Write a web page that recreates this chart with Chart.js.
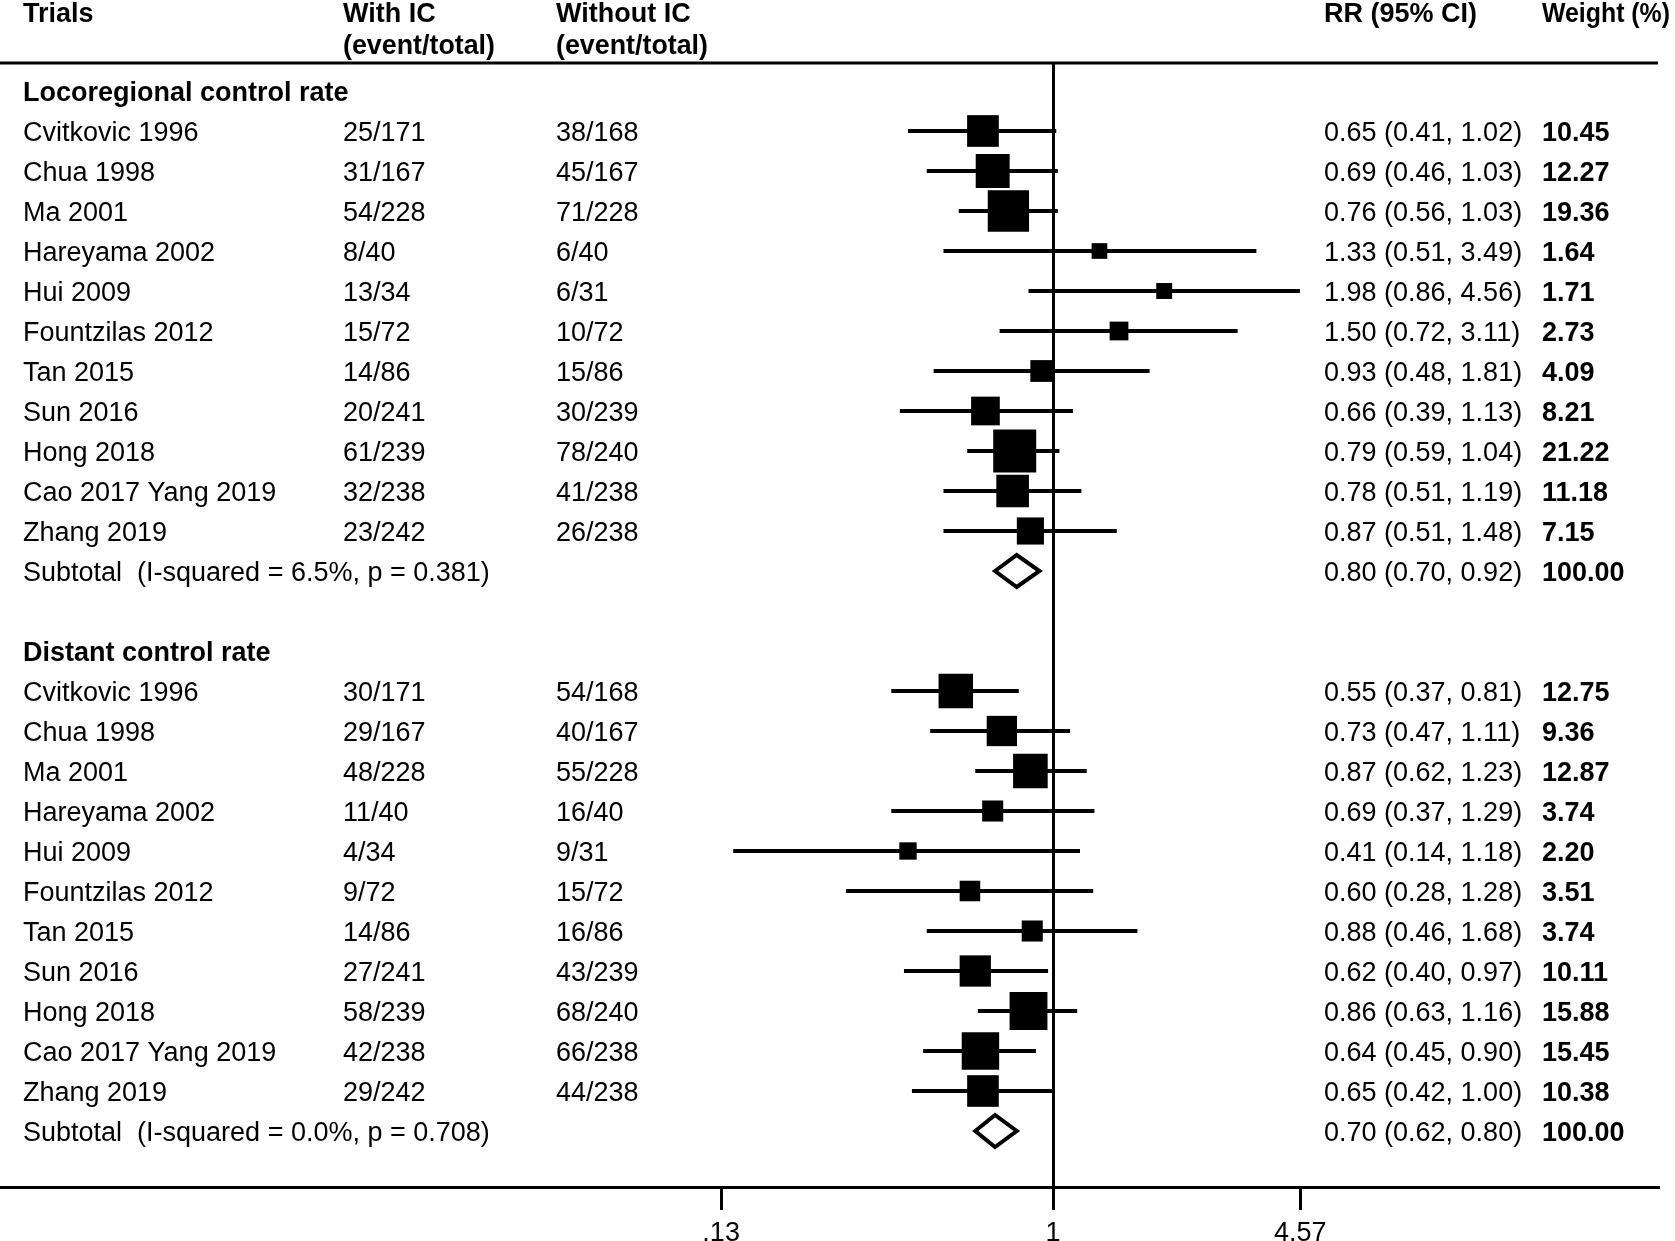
<!DOCTYPE html>
<html>
<head>
<meta charset="utf-8">
<title>Forest plot</title>
<script src="https://cdn.jsdelivr.net/npm/chart.js@4.4.1/dist/chart.umd.min.js"></script>
<style>
  html, body { margin: 0; padding: 0; background: #fff; }
  #wrap { width: 1675px; height: 1241px; }
</style>
</head>
<body>
<div id="wrap"><canvas id="forest" width="1675" height="1241"></canvas></div>
<script>
// study names (same order in both groups)
const trials = ["Cvitkovic 1996", "Chua 1998", "Ma 2001", "Hareyama 2002", "Hui 2009",
  "Fountzilas 2012", "Tan 2015", "Sun 2016", "Hong 2018", "Cao 2017 Yang 2019", "Zhang 2019"];

// Locoregional control rate
const locoWithIC = ["25/171", "31/167", "54/228", "8/40", "13/34", "15/72", "14/86", "20/241", "61/239", "32/238", "23/242"];
const locoWithoutIC = ["38/168", "45/167", "71/228", "6/40", "6/31", "10/72", "15/86", "30/239", "78/240", "41/238", "26/238"];
const locoRR = [0.65, 0.69, 0.76, 1.33, 1.98, 1.50, 0.93, 0.66, 0.79, 0.78, 0.87];
const locoLow = [0.41, 0.46, 0.56, 0.51, 0.86, 0.72, 0.48, 0.39, 0.59, 0.51, 0.51];
const locoHigh = [1.02, 1.03, 1.03, 3.49, 4.56, 3.11, 1.81, 1.13, 1.04, 1.19, 1.48];
const locoWeight = [10.45, 12.27, 19.36, 1.64, 1.71, 2.73, 4.09, 8.21, 21.22, 11.18, 7.15];

// Distant control rate
const distWithIC = ["30/171", "29/167", "48/228", "11/40", "4/34", "9/72", "14/86", "27/241", "58/239", "42/238", "29/242"];
const distWithoutIC = ["54/168", "40/167", "55/228", "16/40", "9/31", "15/72", "16/86", "43/239", "68/240", "66/238", "44/238"];
const distRR = [0.55, 0.73, 0.87, 0.69, 0.41, 0.60, 0.88, 0.62, 0.86, 0.64, 0.65];
const distLow = [0.37, 0.47, 0.62, 0.37, 0.14, 0.28, 0.46, 0.40, 0.63, 0.45, 0.42];
const distHigh = [0.81, 1.11, 1.23, 1.29, 1.18, 1.28, 1.68, 0.97, 1.16, 0.90, 1.00];
const distWeight = [12.75, 9.36, 12.87, 3.74, 2.20, 3.51, 3.74, 10.11, 15.88, 15.45, 10.38];

// pooled results
const groupTitles = ["Locoregional control rate", "Distant control rate"];
const subtotalRR = [0.80, 0.70];
const subtotalLow = [0.70, 0.62];
const subtotalHigh = [0.92, 0.80];
const subtotalHet = ["I-squared = 6.5%, p = 0.381", "I-squared = 0.0%, p = 0.708"];

// x axis
const tickValues = [0.13, 1, 4.57];
const tickLabels = [".13", "1", "4.57"];

const FONT = '"Liberation Sans", Arial, Helvetica, sans-serif';
const REG = "27px " + FONT;
const BOLD = "bold 27px " + FONT;

// one entry per group, row index = start + 1 + i
const groups = [
  { title: groupTitles[0], start: 0, withIC: locoWithIC, withoutIC: locoWithoutIC, rr: locoRR, lo: locoLow, hi: locoHigh, w: locoWeight },
  { title: groupTitles[1], start: 14, withIC: distWithIC, withoutIC: distWithoutIC, rr: distRR, lo: distLow, hi: distHigh, w: distWeight }
];

const squares = [];
const squareRadius = [];
const ciLines = [];
groups.forEach((g) => {
  trials.forEach((name, i) => {
    const row = g.start + 1 + i;
    squares.push({ x: g.rr[i], y: row });
    // box side grows with sqrt(weight), like Stata
    squareRadius.push((8.2 * Math.sqrt(g.w[i]) + 5.2) / Math.SQRT2);
    ciLines.push({ x: g.lo[i], y: row }, { x: g.hi[i], y: row }, { x: g.hi[i], y: null });
  });
});

const fix = (v) => v.toFixed(2);

const forestPlugin = {
  id: "forest",
  afterDatasetsDraw(chart) {
    const { ctx, scales: { x, y } } = chart;
    ctx.save();
    groups.forEach((g, k) => {
      const yc = y.getPixelForValue(g.start + 12);
      const xl = x.getPixelForValue(subtotalLow[k]);
      const xm = x.getPixelForValue(subtotalRR[k]);
      const xh = x.getPixelForValue(subtotalHigh[k]);
      ctx.beginPath();
      ctx.moveTo(xl, yc);
      ctx.lineTo(xm, yc - 16);
      ctx.lineTo(xh, yc);
      ctx.lineTo(xm, yc + 16);
      ctx.closePath();
      ctx.fillStyle = "#fff";
      ctx.fill();
      ctx.lineWidth = 4;
      ctx.strokeStyle = "#000";
      ctx.stroke();
    });
    ctx.restore();
  },
  afterDraw(chart) {
    const { ctx, chartArea, scales: { y } } = chart;
    ctx.save();
    // header rule
    ctx.strokeStyle = "#000";
    ctx.lineWidth = 3;
    ctx.beginPath();
    ctx.moveTo(chartArea.left, chartArea.top);
    ctx.lineTo(chartArea.right, chartArea.top);
    ctx.stroke();

    ctx.fillStyle = "#000";
    ctx.textBaseline = "alphabetic";
    ctx.textAlign = "left";
    const col = { trial: 23, withIC: 343, withoutIC: 556, rr: 1324, weight: 1542 };

    ctx.font = BOLD;
    ctx.fillText("Trials", col.trial, 22);
    ctx.fillText("With IC", col.withIC, 22, 113);
    ctx.fillText("(event/total)", col.withIC, 54, 152);
    ctx.fillText("Without IC", col.withoutIC, 22, 136);
    ctx.fillText("(event/total)", col.withoutIC, 54, 152);
    ctx.fillText("RR (95% CI)", col.rr, 22, 156);
    ctx.fillText("Weight (%)", col.weight, 22, 128);

    const base = (row) => y.getPixelForValue(row) + 10;
    groups.forEach((g, k) => {
      ctx.font = BOLD;
      ctx.fillText(g.title, col.trial, base(g.start));
      trials.forEach((name, i) => {
        const b = base(g.start + 1 + i);
        ctx.font = REG;
        ctx.fillText(name, col.trial, b);
        ctx.fillText(g.withIC[i], col.withIC, b);
        ctx.fillText(g.withoutIC[i], col.withoutIC, b);
        ctx.fillText(fix(g.rr[i]) + " (" + fix(g.lo[i]) + ", " + fix(g.hi[i]) + ")", col.rr, b);
        ctx.font = BOLD;
        ctx.fillText(fix(g.w[i]), col.weight, b);
      });
      const b = base(g.start + 12);
      ctx.font = REG;
      ctx.fillText("Subtotal  (" + subtotalHet[k] + ")", col.trial, b);
      ctx.fillText(fix(subtotalRR[k]) + " (" + fix(subtotalLow[k]) + ", " + fix(subtotalHigh[k]) + ")", col.rr, b);
      ctx.font = BOLD;
      ctx.fillText("100.00", col.weight, b);
    });
    ctx.restore();
  }
};

new Chart(document.getElementById("forest"), {
  type: "scatter",
  data: {
    datasets: [
      {
        label: "RR",
        data: squares,
        pointStyle: "rect",
        pointRadius: squareRadius,
        pointBackgroundColor: "#000",
        pointBorderWidth: 0,
        showLine: false
      },
      {
        label: "95% CI",
        data: ciLines,
        showLine: true,
        spanGaps: false,
        borderColor: "#000",
        borderWidth: 4,
        borderCapStyle: "butt",
        pointRadius: 0
      }
    ]
  },
  options: {
    responsive: false,
    animation: false,
    devicePixelRatio: 1,
    events: [],
    layout: { autoPadding: false, padding: { top: 63, left: 0, right: 17, bottom: 0 } },
    plugins: { legend: { display: false }, tooltip: { enabled: false } },
    scales: {
      x: {
        type: "logarithmic",
        bounds: "data",
        min: 0.001545,
        max: 41.2,
        afterBuildTicks: (axis) => { axis.ticks = tickValues.map((v) => ({ value: v })); },
        afterFit: (axis) => {
          axis.height = 54;
          axis.paddingLeft = 0;
          axis.paddingRight = 0;
        },
        ticks: {
          autoSkip: false,
          maxRotation: 0,
          padding: 7,
          color: "#000",
          font: { family: FONT, size: 27 },
          callback: (value, index) => tickLabels[index]
        },
        grid: {
          drawOnChartArea: true,
          color: (c) => (c.tick && c.tick.value === 1 ? "#000" : "rgba(0,0,0,0)"),
          tickColor: "#000",
          lineWidth: 3,
          tickWidth: 3,
          tickLength: 23
        },
        border: { display: true, color: "#000", width: 3 }
      },
      y: {
        type: "linear",
        display: false,
        reverse: true,
        bounds: "data",
        min: -0.7,
        max: 27.4
      }
    }
  },
  plugins: [forestPlugin]
});
</script>
</body>
</html>
